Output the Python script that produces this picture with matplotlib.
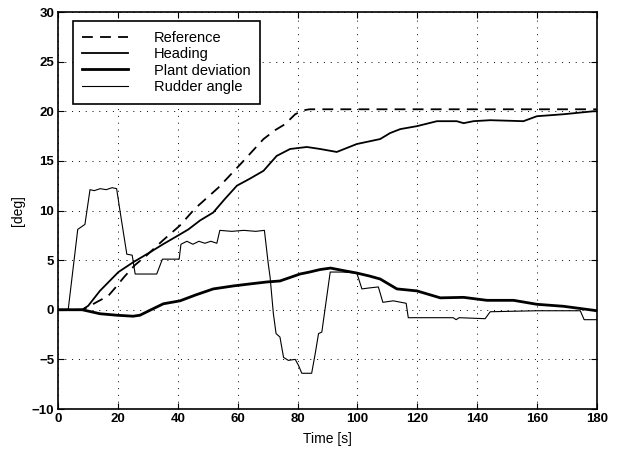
import matplotlib
matplotlib.use("Agg")
import matplotlib.pyplot as plt

# Reference heading [deg]
ref_t = [0, 8, 10, 13, 16.7, 19, 22, 25.6, 29.6, 35, 40.7, 45.7, 53.5, 61.3, 68.6, 72.5, 75.8, 79.2, 82, 84, 180]
ref_v = [0, 0, 0.3, 0.8, 1.4, 2.2, 3.3, 4.5, 5.5, 7.0, 8.5, 10.2, 12.3, 14.8, 17.2, 18.1, 18.7, 19.7, 20.1, 20.2, 20.2]

# Heading [deg]
heading_t = [0, 8, 10, 13.9, 20.1, 25.1, 30.7, 35, 40.7, 43.5, 47.4, 51.8, 55.5, 59.7, 64, 68.6, 73, 77.5, 83.1,
             87.5, 93.1, 99.8, 107.6, 110.9, 114.3, 119.9, 126.6, 133.2, 135.5, 138.8, 144.4, 155.5, 160,
             168.9, 178.9, 180]
heading_v = [0, 0, 0.4, 1.9, 3.8, 4.8, 5.8, 6.6, 7.6, 8.1, 9.0, 9.8, 11.1, 12.5, 13.2, 14.0, 15.5, 16.2, 16.4,
             16.2, 15.9, 16.7, 17.2, 17.8, 18.2, 18.5, 19.0, 19.0, 18.8, 19.0, 19.1, 19.0, 19.5,
             19.7, 20.0, 20.0]

# Plant deviation [deg]
plant_t = [0, 8, 13.9, 19.5, 25, 27.3, 31, 35.1, 40.7, 46, 51.8, 58.5, 64, 69.7, 74.1, 80.8, 84, 87.5, 91,
           95.3, 99.8, 104, 107.6, 113.2, 119.9, 127.7, 135.5, 143.3, 152.2, 160, 168.9, 178.9, 180]
plant_v = [0, 0, -0.4, -0.55, -0.65, -0.55, 0.0, 0.6, 0.9, 1.5, 2.1, 2.4, 2.6, 2.8, 2.9, 3.6, 3.8, 4.05, 4.2,
           3.95, 3.7, 3.4, 3.1, 2.1, 1.9, 1.2, 1.25, 0.95, 0.95, 0.55, 0.35, -0.05, -0.1]

# Rudder angle [deg]
rudder_t = [0, 3.3, 6.5, 8.9, 10.6, 12, 14, 16, 18, 19.5, 20.6, 22.9, 24.7, 25.7, 32.9, 34.8, 40.4, 41,
            43, 45, 47, 49, 51, 53, 54, 58, 62, 66, 68.9, 70.2, 70.8, 71.9, 72.8, 74.1, 75.3, 76.9,
            79.2, 80.3, 81.4, 84.7, 85.9, 87, 88.1, 90.9, 95, 99.8, 101.5, 104, 107, 108.5, 112, 116.3,
            117, 132, 133, 134, 142.7, 144.4, 160, 174.5, 175.8, 180]
rudder_v = [0, 0, 8.1, 8.6, 12.1, 12.0, 12.2, 12.1, 12.3, 12.2, 10.0, 5.6, 5.5, 3.6, 3.6, 5.1, 5.1, 6.6,
            6.9, 6.6, 6.9, 6.7, 6.9, 6.7, 8.0, 7.9, 8.0, 7.9, 8.0, 4.6, 3.3, -0.4, -2.4, -2.75, -4.8, -5.1,
            -5.0, -5.6, -6.4, -6.4, -4.4, -2.4, -2.25, 3.8, 3.8, 3.7, 2.1, 2.2, 2.3, 0.75, 0.9, 0.65,
            -0.8, -0.8, -1.0, -0.8, -0.9, -0.2, -0.1, -0.1, -1.0, -1.0]

plt.rcParams['font.family'] = ['Liberation Sans', 'DejaVu Sans']

fig = plt.figure(figsize=(6.19, 4.5), dpi=100)
ax = fig.add_axes([0.0942, 0.0911, 0.8698, 0.8822])

ax.plot(ref_t, ref_v, color='black', lw=1.3, dashes=(6, 4), label='Reference')
ax.plot(heading_t, heading_v, color='black', lw=1.3, label='Heading')
ax.plot(plant_t, plant_v, color='black', lw=2.0, label='Plant deviation')
ax.plot(rudder_t, rudder_v, color='black', lw=0.8, label='Rudder angle')

ax.set_xlim(0, 180)
ax.set_ylim(-10, 30)
ax.set_xticks(range(0, 181, 20))
ax.set_yticks(range(-10, 31, 5))
ax.grid(True, color='black', linestyle=(0, (1, 6)), linewidth=0.7)
ax.tick_params(direction='in', top=True, right=True, length=4, width=0.8, labelsize=9.5, pad=3)
for lab in ax.get_xticklabels() + ax.get_yticklabels():
    lab.set_fontweight('bold')
for s in ax.spines.values():
    s.set_linewidth(1.2)

ax.set_xlabel('Time [s]', fontsize=10, labelpad=5)
ax.set_ylabel('[deg]', fontsize=10, labelpad=5)

leg = ax.legend(loc='upper left', bbox_to_anchor=(0.027, 0.977), borderaxespad=0, fontsize=10.5,
                handlelength=3.1, handletextpad=1.8, labelspacing=0.17, fancybox=False,
                framealpha=1, edgecolor='black', borderpad=0.65)
leg.get_frame().set_linewidth(1.2)

fig.savefig('out.png', dpi=100)
